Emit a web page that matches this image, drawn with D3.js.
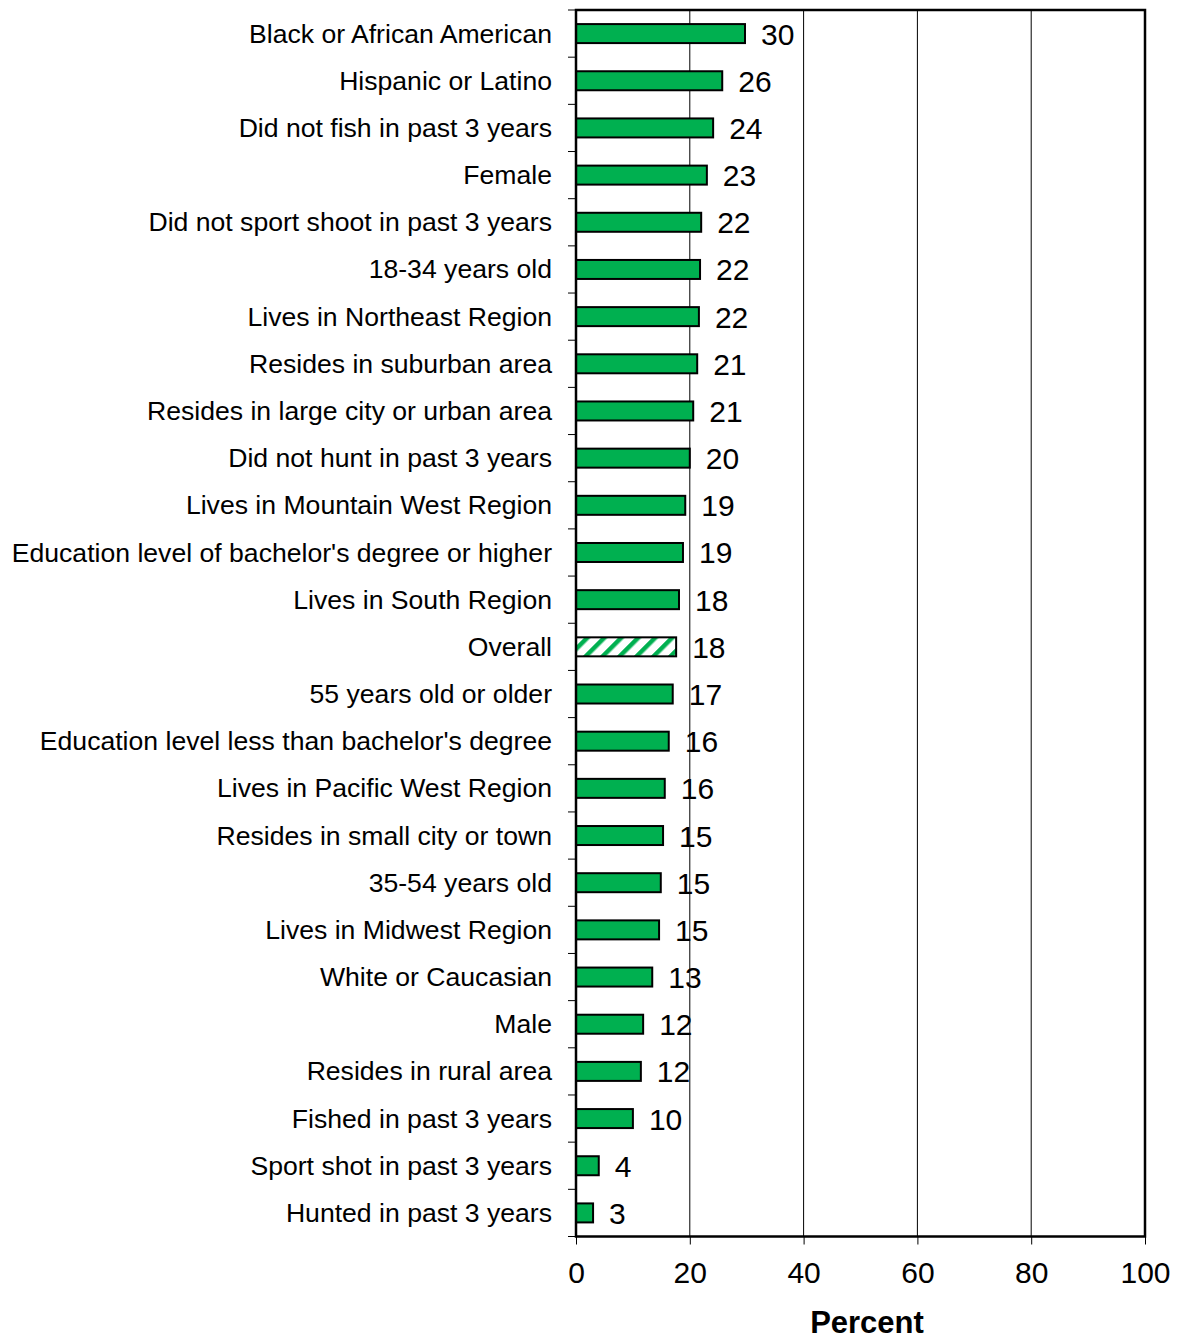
<!DOCTYPE html>
<html><head><meta charset="utf-8">
<script src="https://cdn.jsdelivr.net/npm/d3@7"></script>
<style>body{margin:0;background:#fff}svg{display:block}text{font-family:"Liberation Sans",Arial,sans-serif;fill:#000}</style>
</head><body>
<script>
const categories = ["Black or African American","Hispanic or Latino","Did not fish in past 3 years","Female","Did not sport shoot in past 3 years","18-34 years old","Lives in Northeast Region","Resides in suburban area","Resides in large city or urban area","Did not hunt in past 3 years","Lives in Mountain West Region","Education level of bachelor's degree or higher","Lives in South Region","Overall","55 years old or older","Education level less than bachelor's degree","Lives in Pacific West Region","Resides in small city or town","35-54 years old","Lives in Midwest Region","White or Caucasian","Male","Resides in rural area","Fished in past 3 years","Sport shot in past 3 years","Hunted in past 3 years"];
const values = [29.7,25.7,24.1,23.0,22.0,21.8,21.6,21.3,20.6,20.0,19.2,18.8,18.1,17.6,17.0,16.3,15.6,15.3,14.9,14.6,13.4,11.8,11.4,10.0,4.0,3.0];
const labels = [30,26,24,23,22,22,22,21,21,20,19,19,18,18,17,16,16,15,15,15,13,12,12,10,4,3];
const xTicks = [0,20,40,60,80,100];
const axisTitle = "Percent";
const highlight = "Overall";

const W=1182,H=1340;
const L=576,R=1145,T=10,B=1236.5;
const svg=d3.select("body").append("svg").attr("width",W).attr("height",H);
const defs=svg.append("defs");
const pat=defs.append("pattern").attr("id","hatch").attr("patternUnits","userSpaceOnUse")
  .attr("width",12).attr("height",12).attr("patternTransform","rotate(45)");
pat.append("rect").attr("width",12).attr("height",12).attr("fill","#fff");
pat.append("rect").attr("x",0).attr("y",0).attr("width",4.5).attr("height",12).attr("fill","#00b050");

const x=d3.scaleLinear().domain([0,100]).range([L,R]);
const y=d3.scaleBand().domain(categories).range([T,B]).paddingInner(0).paddingOuter(0);
const bh=19;

// gridlines
svg.append("g").selectAll("line").data(xTicks.filter(d=>d>0&&d<100)).join("line")
  .attr("x1",d=>x(d)).attr("x2",d=>x(d)).attr("y1",T).attr("y2",B)
  .attr("stroke","#000").attr("stroke-width",1);

// bars
svg.append("g").selectAll("rect").data(categories).join("rect")
  .attr("x",x(0)).attr("y",d=>y(d)+y.bandwidth()/2-bh/2)
  .attr("width",(d,i)=>x(values[i])-x(0)).attr("height",bh)
  .attr("fill",d=>d===highlight?"url(#hatch)":"#00b050")
  .attr("stroke","#000").attr("stroke-width",2);

// value labels
svg.append("g").selectAll("text").data(categories).join("text")
  .attr("x",(d,i)=>x(values[i])+16).attr("y",d=>y(d)+y.bandwidth()/2+11)
  .attr("font-size",30).text((d,i)=>labels[i]);

// frame
svg.append("rect").attr("x",L).attr("y",T).attr("width",R-L).attr("height",B-T)
  .attr("fill","none").attr("stroke","#000").attr("stroke-width",2.5);

// left axis
const ya=d3.axisLeft(y).tickSize(0).tickPadding(24);
const gy=svg.append("g").attr("transform",`translate(${L},0)`).call(ya);
gy.select(".domain").remove();
gy.selectAll("text").attr("font-size",26.6).attr("font-family","Liberation Sans, Arial, sans-serif").attr("fill","#000").attr("dy","0.34em");
// left tick marks at band boundaries
const bounds=categories.map(d=>y(d)).concat([B]);
svg.append("g").selectAll("line").data(bounds).join("line")
  .attr("x1",L-8).attr("x2",L).attr("y1",d=>d).attr("y2",d=>d).attr("stroke","#000").attr("stroke-width",1);

// bottom axis
const xa=d3.axisBottom(x).tickValues(xTicks).tickSize(8).tickPadding(17).tickFormat(d3.format("d"));
const gx=svg.append("g").attr("transform",`translate(0,${B})`).call(xa);
gx.select(".domain").remove();
gx.selectAll("line").attr("stroke","#000");
gx.selectAll("text").attr("font-size",30).attr("font-family","Liberation Sans, Arial, sans-serif").attr("fill","#000");

svg.append("text").attr("x",867).attr("y",1333).attr("text-anchor","middle")
  .attr("font-size",31).attr("font-weight","bold").text(axisTitle);
</script>
</body></html>
